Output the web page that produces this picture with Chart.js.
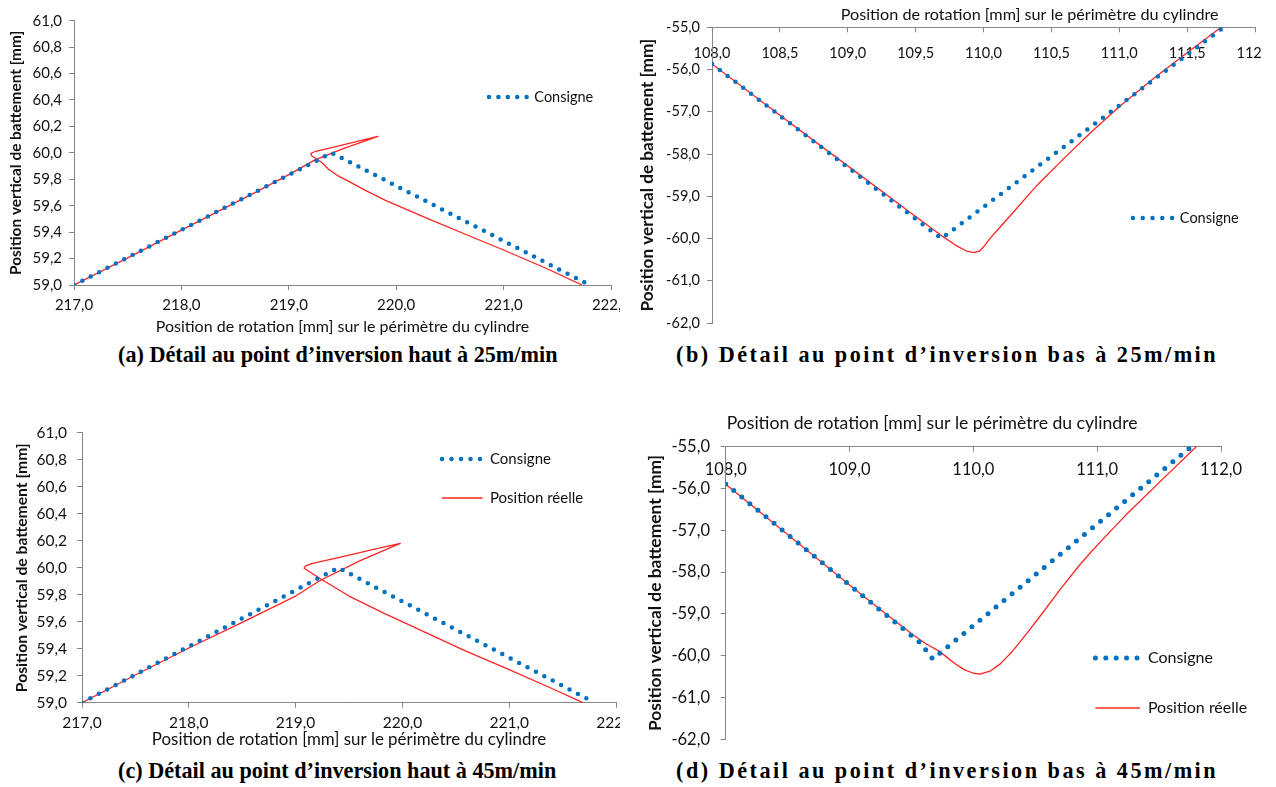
<!DOCTYPE html>
<html lang="fr">
<head>
<meta charset="utf-8">
<title>Détail aux points d’inversion</title>
<script src="https://cdn.jsdelivr.net/npm/chart.js@4.4.1/dist/chart.umd.min.js"></script>
<style>
  html, body { margin: 0; padding: 0; background: #fff; }
  body { position: relative; width: 1276px; height: 787px; overflow: hidden; }
  canvas { position: absolute; display: block; }
  .caption {
    position: absolute; margin: 0;
    font-family: "Liberation Serif", "Times New Roman", serif;
    font-weight: bold; font-size: 22.2px; line-height: 26px;
    color: #000; white-space: nowrap;
  }
  .caption.wide { letter-spacing: 2.5px; }
</style>
</head>
<body>
<canvas id="hautLent" width="620" height="340" style="left:0;top:0"></canvas>
<canvas id="basLent" width="629" height="340" style="left:632px;top:0"></canvas>
<canvas id="hautRapide" width="620" height="340" style="left:0;top:410px"></canvas>
<canvas id="basRapide" width="644" height="345" style="left:632px;top:405px"></canvas>
<p class="caption" style="left:118px;top:342px">(a) Détail au point d’inversion haut à 25m/min</p>
<p class="caption wide" style="left:676px;top:342px">(b) Détail au point d’inversion bas à 25m/min</p>
<p class="caption" style="left:118px;top:758px">(c) Détail au point d’inversion haut à 45m/min</p>
<p class="caption wide" style="left:676px;top:758px">(d) Détail au point d’inversion bas à 45m/min</p>
<script>
// Point d'inversion haut, 25 m/min
const hautLentConsigneX = [217.0, 219.4, 221.8];
const hautLentConsigneY = [59.0, 60.0, 59.0];
const hautLentReelleX = [217.0, 217.5, 218.0, 218.64, 219.0, 219.24, 219.5, 219.83, 219.6, 219.4, 219.25, 219.205, 219.215, 219.26, 219.31, 219.37, 219.45, 219.55, 219.7, 219.9, 220.3, 220.7, 221.0, 221.4, 221.73];
const hautLentReelleY = [59.0, 59.205, 59.415, 59.68, 59.835, 59.945, 60.03, 60.125, 60.08, 60.04, 60.012, 59.995, 59.976, 59.953, 59.925, 59.876, 59.83, 59.788, 59.722, 59.64, 59.5, 59.365, 59.265, 59.125, 59.0];

// Point d'inversion bas, 25 m/min
const basLentConsigneX = [108.0, 109.69, 111.77];
const basLentConsigneY = [-55.87, -60.0, -55.0];
const basLentReelleX = [108.0, 108.5, 109.0, 109.5, 109.7, 109.8, 109.87, 109.93, 109.97, 110.0, 110.04, 110.08, 110.2, 110.4, 110.6, 110.8, 111.0, 111.25, 111.5, 111.75];
const basLentReelleY = [-55.87, -57.08, -58.28, -59.48, -59.95, -60.17, -60.29, -60.335, -60.3, -60.2, -60.03, -59.88, -59.45, -58.72, -58.08, -57.46, -56.88, -56.22, -55.6, -55.0];

// Point d'inversion haut, 45 m/min
const hautRapideConsigneX = [217.0, 219.4, 221.8];
const hautRapideConsigneY = [59.0, 60.0, 59.0];
const hautRapideReelleX = [217.0, 217.5, 218.0, 218.5, 219.0, 219.1, 219.23, 219.6, 219.98, 219.7, 219.4, 219.15, 219.09, 219.08, 219.12, 219.24, 219.5, 219.82, 220.23, 220.6, 221.0, 221.4, 221.69];
const hautRapideReelleY = [59.0, 59.205, 59.405, 59.595, 59.79, 59.84, 59.905, 60.05, 60.18, 60.13, 60.075, 60.03, 60.012, 59.996, 59.976, 59.914, 59.79, 59.665, 59.515, 59.38, 59.245, 59.105, 59.0];

// Point d'inversion bas, 45 m/min
const basRapideConsigneX = [108.0, 109.575, 109.672, 111.76];
const basRapideConsigneY = [-55.89, -59.7, -60.08, -55.0];
const basRapideReelleX = [108.0, 108.5, 109.0, 109.246, 109.515, 109.62, 109.731, 109.8, 109.866, 109.93, 110.0, 110.054, 110.135, 110.22, 110.32, 110.43, 110.54, 110.7, 110.85, 110.95, 111.05, 111.233, 111.5, 111.8];
const basRapideReelleY = [-55.9, -57.1, -58.31, -58.89, -59.505, -59.72, -59.904, -60.07, -60.22, -60.34, -60.42, -60.44, -60.37, -60.19, -59.88, -59.47, -59.05, -58.42, -57.86, -57.52, -57.2, -56.63, -55.86, -55.0];

// Graduations
const ticksHautX = [217.0, 218.0, 219.0, 220.0, 221.0, 222.0];
const ticksHautY = [59.0, 59.2, 59.4, 59.6, 59.8, 60.0, 60.2, 60.4, 60.6, 60.8, 61.0];
const ticksBasLentX = [108.0, 108.5, 109.0, 109.5, 110.0, 110.5, 111.0, 111.5, 112.0];
const ticksBasRapideX = [108.0, 109.0, 110.0, 111.0, 112.0];
const ticksBasY = [-62.0, -61.0, -60.0, -59.0, -58.0, -57.0, -56.0, -55.0];

const seriesLabels = ['Consigne', 'Position réelle'];
const xAxisTitle = 'Position de rotation [mm] sur le périmètre du cylindre';
const yAxisTitle = 'Position vertical de battement [mm]';

const GRIS = '#868686';
const TEXTE = '#111111';
const BLEU = '#0070C0';
const ROUGE = '#FF2424';

Chart.defaults.font.family = 'Lato, "Open Sans", "DejaVu Sans", sans-serif';
Chart.defaults.color = TEXTE;

const virgule = v => Number(v).toFixed(1).replace('.', ',');
const points = (xs, ys) => xs.map((x, i) => ({ x, y: ys[i] }));

// Moves the legend and the top title to fixed spots on the canvas
const placeBlocks = {
  id: 'placeBlocks',
  beforeDraw(chart, args, opts) {
    const lg = chart.legend;
    if (lg && opts.legend) {
      const { x, y, pad, fs } = opts.legend;
      lg.left = x - pad;
      lg.top = y - pad - fs / 2;
      lg.right = lg.left + 300;
      lg.bottom = lg.top + 300;
    }
    const tb = chart.titleBlock;
    if (tb && opts.titleX !== undefined) {
      tb.left = opts.titleX;
      tb.right = tb.left + 600;
    }
  }
};

function inversionChart(canvasId, cfg) {
  const datasets = [
    {
      label: seriesLabels[0],
      data: points(cfg.consigne[0], cfg.consigne[1]),
      showLine: true, pointRadius: 0, pointHoverRadius: 0, tension: 0,
      borderColor: BLEU, backgroundColor: BLEU,
      borderWidth: cfg.dotSize, borderDash: [0, cfg.dotGap], borderCapStyle: 'round'
    },
    {
      label: seriesLabels[1],
      data: points(cfg.reelle[0], cfg.reelle[1]),
      showLine: true, pointRadius: 0, pointHoverRadius: 0, tension: 0,
      borderColor: ROUGE, backgroundColor: ROUGE,
      borderWidth: 1.3, borderJoinStyle: 'round', borderCapStyle: 'butt'
    }
  ];

  const xTop = !!cfg.xTop;
  return new Chart(document.getElementById(canvasId), {
    type: 'scatter',
    data: { datasets },
    options: {
      responsive: false,
      animation: false,
      events: [],
      layout: { padding: cfg.layoutPad },
      scales: {
        x: {
          type: 'linear',
          position: xTop ? 'top' : 'bottom',
          min: cfg.xTicks[0], max: cfg.xTicks[cfg.xTicks.length - 1],
          afterBuildTicks: s => { s.ticks = cfg.xTicks.map(v => ({ value: v })); },
          afterFit: s => { s.height = cfg.xHeight; s.paddingLeft = 0; s.paddingRight = 0; },
          grid: { display: true, drawOnChartArea: false, drawTicks: true, tickLength: cfg.xTickLen, color: GRIS, lineWidth: 1 },
          border: { display: true, color: GRIS, width: 1 },
          ticks: {
            autoSkip: false, maxRotation: 0, minRotation: 0, mirror: xTop,
            padding: cfg.xTickPad, font: { size: cfg.tickSize }, color: TEXTE,
            callback: v => virgule(v)
          },
          title: {
            display: !xTop, text: xAxisTitle, color: TEXTE,
            font: { size: cfg.xTitleSize }, padding: { top: 0, bottom: cfg.xTitlePad || 0 }
          }
        },
        y: {
          type: 'linear', position: 'left',
          min: cfg.yTicks[0], max: cfg.yTicks[cfg.yTicks.length - 1],
          afterBuildTicks: s => { s.ticks = cfg.yTicks.map(v => ({ value: v })); },
          afterFit: s => { s.width = cfg.yWidth; s.paddingTop = 0; s.paddingBottom = 0; },
          grid: { display: true, drawOnChartArea: false, drawTicks: true, tickLength: 5, color: GRIS, lineWidth: 1 },
          border: { display: true, color: GRIS, width: 1 },
          ticks: {
            autoSkip: false, padding: cfg.yTickPad, font: { size: cfg.tickSize }, color: TEXTE,
            callback: v => virgule(v)
          },
          title: {
            display: true, text: yAxisTitle, color: TEXTE,
            font: { size: cfg.yTitleSize, weight: 'bold' }, padding: { top: cfg.yTitlePad, bottom: 0 }
          }
        }
      },
      plugins: {
        tooltip: { enabled: false },
        title: {
          display: xTop, text: xAxisTitle, align: 'start', color: TEXTE,
          font: { size: cfg.xTitleSize, weight: 'normal' },
          padding: { top: cfg.titlePad || 0, bottom: 0 }
        },
        legend: {
          display: true, position: 'chartArea', align: 'start',
          labels: {
            usePointStyle: true, pointStyle: 'line',
            pointStyleWidth: 4 * cfg.legendGap + 0.5,
            padding: cfg.legendPad, color: TEXTE, font: { size: cfg.legendSize },
            generateLabels: chart => chart.data.datasets.slice(0, cfg.legendItems).map((ds, i) => ({
              text: ds.label, datasetIndex: i, hidden: false, fontColor: TEXTE, textAlign: 'left',
              strokeStyle: ds.borderColor, fillStyle: 'rgba(0,0,0,0)',
              lineWidth: ds.borderWidth, lineDash: ds.borderDash || [], lineDashOffset: 0,
              lineCap: ds.borderCapStyle || 'butt', lineJoin: 'round',
              pointStyle: 'line', rotation: 0
            }))
          }
        },
        placeBlocks: {
          legend: { x: cfg.legendX, y: cfg.legendY, pad: cfg.legendPad, fs: cfg.legendSize },
          titleX: xTop ? cfg.titleX : undefined
        }
      }
    },
    plugins: [placeBlocks]
  });
}

// (a) haut, 25 m/min
inversionChart('hautLent', {
  consigne: [hautLentConsigneX, hautLentConsigneY],
  reelle: [hautLentReelleX, hautLentReelleY],
  xTicks: ticksHautX, yTicks: ticksHautY,
  layoutPad: { left: 0, right: 9, top: 20.7, bottom: 0 },
  xHeight: 55, xTickLen: 5, xTickPad: 6, tickSize: 15,
  xTitleSize: 16, xTitlePad: 3.4,
  yWidth: 74, yTickPad: 7, yTitleSize: 15.4, yTitlePad: 6.8,
  dotSize: 4.5, dotGap: 9.4,
  legendX: 489, legendY: 97, legendGap: 9.4, legendSize: 14.5, legendPad: 10, legendItems: 1
});

// (b) bas, 25 m/min
inversionChart('basLent', {
  consigne: [basLentConsigneX, basLentConsigneY],
  reelle: [basLentReelleX, basLentReelleY],
  xTicks: ticksBasLentX, yTicks: ticksBasY, xTop: true,
  layoutPad: { left: 0, right: 6, top: 0, bottom: 17 },
  xHeight: 2.58, xTickLen: -5, xTickPad: 17.5, tickSize: 14.5,
  xTitleSize: 16.2, titlePad: 5.28, titleX: 208.7,
  yWidth: 80, yTickPad: 7, yTitleSize: 17.2, yTitlePad: 5.6,
  dotSize: 4.5, dotGap: 9.8,
  legendX: 500.9, legendY: 218, legendGap: 9.8, legendSize: 14.5, legendPad: 10, legendItems: 1
});

// (c) haut, 45 m/min
inversionChart('hautRapide', {
  consigne: [hautRapideConsigneX, hautRapideConsigneY],
  reelle: [hautRapideReelleX, hautRapideReelleY],
  xTicks: ticksHautX, yTicks: ticksHautY,
  layoutPad: { left: 0, right: 4, top: 22.7, bottom: 0 },
  xHeight: 47.3, xTickLen: 5, xTickPad: 6.3, tickSize: 15.5,
  xTitleSize: 16.9, xTitlePad: 0,
  yWidth: 82, yTickPad: 10, yTitleSize: 15.7, yTitlePad: 12.6,
  dotSize: 4.5, dotGap: 9.5,
  legendX: 442, legendY: 49, legendGap: 10, legendSize: 15, legendPad: 24, legendItems: 2
});

// (d) bas, 45 m/min
inversionChart('basRapide', {
  consigne: [basRapideConsigneX, basRapideConsigneY],
  reelle: [basRapideReelleX, basRapideReelleY],
  xTicks: ticksBasRapideX, yTicks: ticksBasY, xTop: true,
  layoutPad: { left: 0, right: 55, top: 0, bottom: 10.7 },
  xHeight: 12.84, xTickLen: -5, xTickPad: 13.4, tickSize: 16.5,
  xTitleSize: 17.6, titlePad: 7.74, titleX: 94.7,
  yWidth: 93.7, yTickPad: 10.7, yTitleSize: 17.4, yTitlePad: 13,
  dotSize: 5, dotGap: 10.4,
  legendX: 463.4, legendY: 253, legendGap: 11, legendSize: 16, legendPad: 34, legendItems: 2
});
</script>
</body>
</html>
